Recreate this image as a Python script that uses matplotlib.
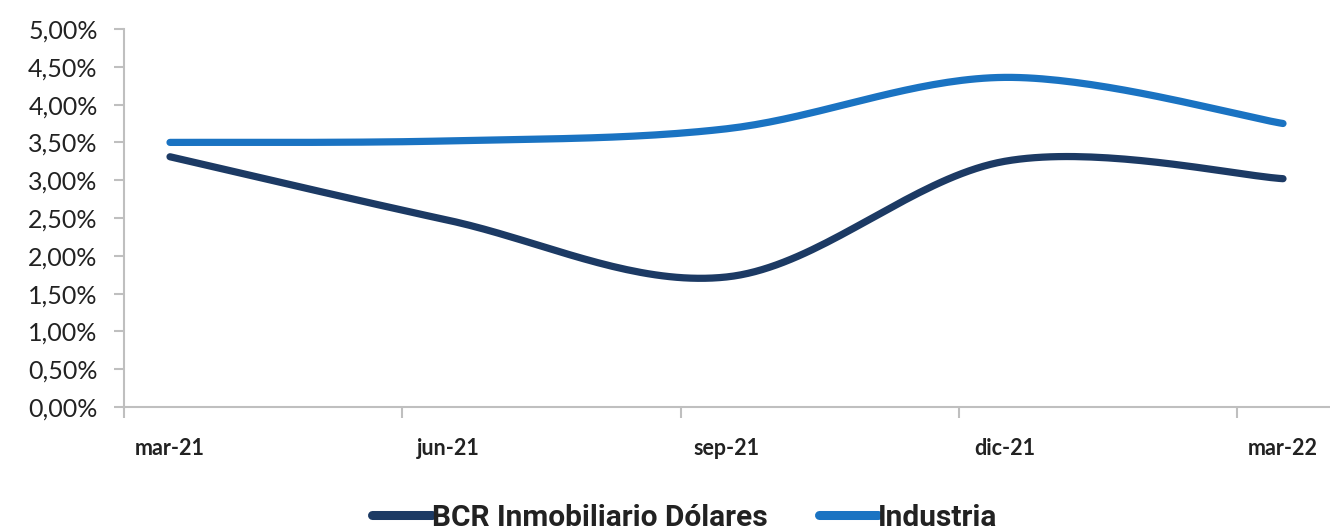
import numpy as np
import matplotlib
matplotlib.use("Agg")
import matplotlib.pyplot as plt
from matplotlib.ticker import FuncFormatter, FixedLocator
from matplotlib.lines import Line2D

categories = ["mar-21", "jun-21", "sep-21", "dic-21", "mar-22"]
bcr = [3.31, 2.47, 1.72, 3.25, 3.02]
industria = [3.50, 3.52, 3.68, 4.36, 3.75]
series_names = ["BCR Inmobiliario Dólares", "Industria"]
colors = ["#1c3a64", "#1a73c2"]

plt.rcParams['font.family'] = ['Lato', 'DejaVu Sans']


def smooth(y, n=40):
    # Catmull-Rom style smoothing similar to Excel's smoothed lines
    y = np.asarray(y, dtype=float)
    x = np.arange(len(y), dtype=float)
    P = np.column_stack([x, y])
    Pext = np.vstack([P[0], P, P[-1]])
    out = []
    for i in range(len(P) - 1):
        p0, p1, p2, p3 = Pext[i], Pext[i + 1], Pext[i + 2], Pext[i + 3]
        c1 = p1 + (p2 - p0) / 6.0
        c2 = p2 - (p3 - p1) / 6.0
        t = np.linspace(0, 1, n)[:, None]
        seg = ((1 - t) ** 3) * p1 + 3 * ((1 - t) ** 2) * t * c1 + 3 * (1 - t) * t ** 2 * c2 + t ** 3 * p2
        out.append(seg if i == 0 else seg[1:])
    s = np.vstack(out)
    return s[:, 0], s[:, 1]


W, H = 1330, 531
fig = plt.figure(figsize=(W / 100, H / 100), dpi=100)
ax = fig.add_axes([124 / W, 1 - 407 / H, (W - 124) / W, (407 - 29) / H])

for vals, name, c in zip([bcr, industria], series_names, colors):
    xs, ys = smooth(vals)
    ax.plot(xs, ys, color=c, lw=5.2, solid_capstyle='round', label=name)

off = 46 / 278.25
ax.set_xlim(-off, (W - 170) / 278.25)
ax.set_ylim(0, 5)
ax.yaxis.set_major_locator(FixedLocator(np.arange(0, 5.01, 0.5)))
ax.yaxis.set_major_formatter(FuncFormatter(lambda v, p: f"{v:.2f}".replace('.', ',') + "%"))

ax.xaxis.set_major_locator(FixedLocator([i - off for i in range(len(categories))]))
ax.xaxis.set_major_formatter(FuncFormatter(lambda v, p: ""))
ax.xaxis.set_minor_locator(FixedLocator(list(range(len(categories)))))
ax.set_xticklabels(categories, minor=True)

gray = "#bfbfbf"
for s in ["top", "right"]:
    ax.spines[s].set_visible(False)
for s in ["left", "bottom"]:
    ax.spines[s].set_color(gray)
    ax.spines[s].set_linewidth(1.5)

ax.tick_params(axis='y', which='major', direction='out', length=7, width=1.5, color=gray,
               labelsize=18, labelcolor="#222222", pad=12)
ax.tick_params(axis='x', which='major', direction='out', length=8, width=1.5, color=gray)
ax.tick_params(axis='x', which='minor', length=0, labelsize=15.5, labelcolor="#222222", pad=22)
for lab in ax.get_xticklabels(minor=True):
    lab.set_fontweight('bold')

leg_handles = [Line2D([], [], color=c, lw=6.5, solid_capstyle='round') for c in colors]
leg = fig.legend(handles=leg_handles, labels=series_names, loc='center', bbox_to_anchor=(0.515, 0.025),
                 ncol=2, frameon=False,
                 prop={'family': ['Roboto', 'DejaVu Sans'], 'size': 21.5, 'weight': 'bold'},
                 handlelength=2.0, handletextpad=0.0, columnspacing=1.7)
for t in leg.get_texts():
    t.set_color("#222222")

fig.savefig("out.png", dpi=100)
